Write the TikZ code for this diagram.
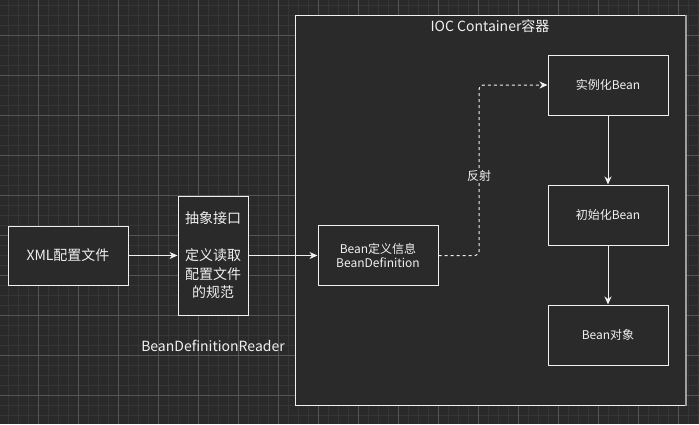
\documentclass[tikz,border=0pt]{standalone}
\usepackage{fontspec}
\setmainfont{Noto Sans CJK SC}
\usetikzlibrary{arrows.meta}
\definecolor{bgc}{HTML}{2A2A2A}
\definecolor{minorc}{HTML}{363636}
\definecolor{majorc}{HTML}{555555}
\definecolor{fgc}{HTML}{F0F0F0}
\definecolor{edgec}{HTML}{A0A0A0}
\tikzset{
  box/.style={draw=fgc, line width=1pt, fill=bgc, text=fgc, inner sep=0pt, align=center},
  bigtxt/.style={font=\fontsize{14}{18.5}\selectfont},
  smalltxt/.style={font=\fontsize{12}{14}\selectfont},
  conn/.style={draw=fgc, line width=1pt, -{Stealth[length=8pt,width=7pt,inset=2.5pt]}},
  lbl/.style={text=fgc, inner sep=1pt},
}
\begin{document}
\begin{tikzpicture}[x=1pt,y=-1pt]
\useasboundingbox (0,0) rectangle (699,424);
\fill[bgc] (0,0) rectangle (699,424);
% grid
\foreach \x in {8,18,...,698} \draw[minorc, line width=1pt] (\x,0) -- (\x,424);
\foreach \y in {5,15,...,424} \draw[minorc, line width=1pt] (0,\y) -- (699,\y);
\foreach \x in {38,78,...,698} \draw[majorc, line width=1pt] (\x,0) -- (\x,424);
\foreach \y in {35,75,...,424} \draw[majorc, line width=1pt] (0,\y) -- (699,\y);
% container
\node[box, draw=fgc, minimum width=390pt, minimum height=390pt, anchor=north west] (ioc) at (295,15) {};
\draw[edgec, line width=1.5pt] (ioc.north east) -- (ioc.south east);
\node[lbl, bigtxt] (ioct) at (490,26) {IOC Container容器};
% nodes
\node[box, bigtxt, minimum width=120pt, minimum height=59pt] (xml) at (68,255.5) {XML配置文件};
\node[box, bigtxt, minimum width=70pt, minimum height=119pt] (abs) at (213,255.5) {抽象接口\\[18.5pt]定义读取\\配置文件\\的规范};
\node[lbl, bigtxt] (bdr) at (213,346) {BeanDefinitionReader};
\node[box, smalltxt, minimum width=120pt, minimum height=60pt] (bd) at (378,255.5) {Bean定义信息\\BeanDefinition};
\node[box, smalltxt, minimum width=120pt, minimum height=60pt] (inst) at (608,85) {实例化Bean};
\node[box, smalltxt, minimum width=120pt, minimum height=60pt] (init) at (608,215) {初始化Bean};
\node[box, smalltxt, minimum width=120pt, minimum height=60pt] (obj) at (608,335) {Bean对象};
% connectors
\draw[conn] (xml.east) -- (abs.west |- xml.east);
\draw[conn] (abs.east |- bd.west) -- (bd.west);
\coordinate (k) at (479,176);
\draw[conn, dash pattern=on 3pt off 3pt, rounded corners=4pt] (bd.east) -| (k) |- (inst.west);
\node[lbl, smalltxt, fill=bgc] (fs) at (k) {反射};
\draw[conn] (inst.south) -- (init.north);
\draw[conn] (init.south) -- (obj.north);
\end{tikzpicture}
\end{document}
